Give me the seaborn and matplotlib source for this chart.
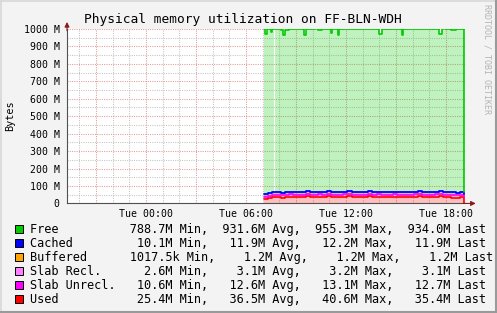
import numpy as np
import matplotlib
matplotlib.use("Agg")
import matplotlib.pyplot as plt
import seaborn as sns
from matplotlib.lines import Line2D
from matplotlib.patches import Rectangle

sns.set_style("white")
plt.rcParams["font.family"] = ["DejaVu Sans Mono"]

# ---------------- data (hours since Tue 00:00, values in MB) ----------------
t_start = 7.08          # first sample
step_h = 5 / 60         # 5-minute samples
x_min, x_max = -4.74, 19.14

used_15 = [27, 31, 35, 37, 34, 36, 39, 38, 35, 37, 40, 38, 36, 39, 38, 40,
           36, 35, 38, 39, 40, 37, 36, 35, 38, 40, 37, 39, 36, 35, 38, 39,
           36, 38, 35, 37, 39, 40, 37, 35, 37, 39, 40, 36, 35, 34, 33, 35]
slab_unrecl_15 = [10.8, 11.5, 12.1, 12.3, 12.4, 12.5, 12.6, 12.6, 12.7, 12.6, 12.7, 12.8,
                  12.7, 12.6, 12.7, 12.8, 12.8, 12.7, 12.6, 12.7, 12.8, 12.9, 12.8, 12.7,
                  12.6, 12.7, 12.8, 12.9, 12.8, 12.7, 12.8, 12.9, 13.0, 12.9, 12.8, 12.7,
                  12.8, 12.9, 13.0, 13.1, 12.9, 12.8, 12.7, 12.8, 12.7, 12.6, 12.7, 12.7]
slab_recl_15 = [2.6, 2.8, 3.0, 3.1, 3.1, 3.1, 3.1, 3.1, 3.1, 3.1, 3.2, 3.1,
                3.1, 3.1, 3.1, 3.2, 3.1, 3.1, 3.1, 3.1, 3.2, 3.1, 3.1, 3.1,
                3.1, 3.1, 3.2, 3.1, 3.1, 3.1, 3.1, 3.1, 3.2, 3.1, 3.1, 3.1,
                3.1, 3.2, 3.1, 3.1, 3.1, 3.1, 3.1, 3.2, 3.1, 3.1, 3.1, 3.1]
buffered_15 = [1.0, 1.1, 1.2, 1.2, 1.2, 1.2, 1.2, 1.2, 1.2, 1.2, 1.2, 1.2,
               1.2, 1.2, 1.2, 1.2, 1.2, 1.2, 1.2, 1.2, 1.2, 1.2, 1.2, 1.2,
               1.2, 1.2, 1.2, 1.2, 1.2, 1.2, 1.2, 1.2, 1.2, 1.2, 1.2, 1.2,
               1.2, 1.2, 1.2, 1.2, 1.2, 1.2, 1.2, 1.2, 1.2, 1.2, 1.2, 1.2]
cached_15 = [10.1, 10.9, 11.6, 11.8, 11.9, 11.9, 12.0, 12.0, 11.9, 12.0, 12.0, 12.1,
             12.0, 11.9, 12.0, 12.1, 12.0, 11.9, 12.0, 12.0, 12.1, 12.2, 12.0, 11.9,
             12.0, 12.0, 12.1, 12.0, 11.9, 12.0, 12.0, 12.1, 12.0, 11.9, 12.0, 12.0,
             12.1, 12.0, 11.9, 11.9, 12.0, 12.0, 12.1, 12.0, 11.9, 11.9, 11.9, 11.9]
free_15 = [945.5, 939.7, 934.1, 931.6,
           934, 932, 929, 930, 933, 931, 928, 930, 932, 929, 930, 928,
           932, 933, 930, 929, 928, 931, 932, 933, 930, 928, 931, 929,
           932, 933, 930, 929, 932, 930, 933, 931, 929, 928, 931, 933,
           931, 929, 928, 932, 933, 934, 935, 933]
# short dips / bumps of "Free" read at 5-minute resolution: (sample, change in MB)
free_events = [(1, -25), (5, -17), (14, -29), (29, -29), (37, 6), (48, -23),
               (53, -29), (56, 6), (83, -27), (84, -27), (99, -29), (121, 6),
               (126, -27), (127, -27), (129, 6)]
free_gaps = [7]

names = ["Used", "Slab Unrecl.", "Slab Recl.", "Buffered", "Cached", "Free"]
colors = ["#FF0000", "#FF00FF", "#FF80FF", "#FFA500", "#0000FF", "#00CC00"]

legend_labels = ["Free", "Cached", "Buffered", "Slab Recl.", "Slab Unrecl.", "Used"]
legend_colors = ["#00CC00", "#0000FF", "#FFA500", "#FF80FF", "#FF00FF", "#FF0000"]
stat_min = ["788.7M", "10.1M", "1017.5k", "2.6M", "10.6M", "25.4M"]
stat_avg = ["931.6M", "11.9M", "1.2M", "3.1M", "12.6M", "36.5M"]
stat_max = ["955.3M", "12.2M", "1.2M", "3.2M", "13.1M", "40.6M"]
stat_last = ["934.0M", "11.9M", "1.2M", "3.1M", "12.7M", "35.4M"]

ytick_values = [0, 100, 200, 300, 400, 500, 600, 700, 800, 900, 1000]
ytick_labels = ["0", "100 M", "200 M", "300 M", "400 M", "500 M",
                "600 M", "700 M", "800 M", "900 M", "1000 M"]
xtick_hours = [-3, 0, 3, 6, 9, 12, 15, 18]
xtick_labels = ["", "Tue 00:00", "", "Tue 06:00", "", "Tue 12:00", "", "Tue 18:00"]

# ---------------- build stacked series ----------------
free = np.repeat(np.array(free_15, dtype=float), 3)
for j, d in free_events:
    free[j] += d
for j in free_gaps:
    free[j] = np.nan
series = [np.repeat(np.array(s, dtype=float), 3) for s in
          (used_15, slab_unrecl_15, slab_recl_15, buffered_15, cached_15)] + [free]
n = len(free)
t = t_start + step_h * np.arange(n)
t_end = t_start + step_h * n
t_ext = np.append(t, t_end)

cum = np.cumsum(np.vstack(series), axis=0)

# ---------------- figure ----------------
BG = "#F3F3F3"
fig = plt.figure(figsize=(4.97, 3.13), dpi=100, facecolor=BG)
W, H = 497, 313
ax = fig.add_axes([67 / W, (H - 203.45) / H, 398 / W, 174.5 / H])
ax.set_facecolor("white")
ax.set_xlim(x_min, x_max)
ax.set_ylim(0, 1000)
ax.set_axisbelow(True)

# grids
ax.set_xticks(xtick_hours)
ax.set_xticklabels(xtick_labels)
ax.set_xticks(np.arange(-4, 20, 1), minor=True)
ax.set_yticks(ytick_values)
ax.set_yticklabels(ytick_labels)
ax.set_yticks(np.arange(50, 1000, 100), minor=True)
dot = (0, (1, 1.2))
ax.grid(which="minor", color="#C4C4C4", lw=0.75, linestyle=dot)
ax.grid(which="major", color="#E39A9A", lw=0.75, linestyle=dot)


def segments(y):
    """index ranges [a, b) of valid samples, split at NaN samples"""
    out, a = [], 0
    for b in list(np.where(np.isnan(y))[0]) + [len(y)]:
        if b > a:
            out.append((a, b))
        a = b + 1
    return out


# areas
lower = np.zeros(n)
for k in range(6):
    upper = cum[k]
    for a, b in segments(upper):
        xs = t_ext[a:b + 1]
        lo = np.append(lower[a:b], lower[b - 1])
        hi = np.append(upper[a:b], upper[b - 1])
        ax.fill_between(xs, lo, hi, step="post", color=colors[k], alpha=0.25,
                        lw=0, zorder=2)
    lower = upper.copy()

# lines (light ones first so magenta / blue stay visible)
line_order = [2, 3, 0, 1, 4, 5]
line_width = {0: 1.2, 1: 1.2, 2: 1.0, 3: 1.0, 4: 1.3, 5: 1.2}
for k in line_order:
    upper = cum[k]
    below_last = cum[k - 1][-1] if k > 0 else 0.0
    segs = segments(upper)
    for si, (a, b) in enumerate(segs):
        xs = t_ext[a:b + 1]
        ys = np.append(upper[a:b], upper[b - 1])
        if si == len(segs) - 1:
            xs = np.append(xs, t_end)
            ys = np.append(ys, below_last)
        sns.lineplot(x=xs, y=ys, ax=ax, color=colors[k], lw=line_width[k],
                     sort=False, estimator=None, drawstyle="steps-post", zorder=3)

# axes styling
for s in ["top", "right"]:
    ax.spines[s].set_visible(False)
for s in ["left", "bottom"]:
    ax.spines[s].set_color("#505050")
    ax.spines[s].set_linewidth(0.8)
    ax.spines[s].set_zorder(4)
ax.tick_params(axis="both", which="major", length=2, width=0.7, color="#7A7A7A",
               labelsize=7.1, labelcolor="#000000")
ax.tick_params(axis="x", which="major", pad=2.2, color="#B04040")
ax.tick_params(axis="y", which="major", pad=3.4)
ax.tick_params(axis="both", which="minor", length=0)
ax.set_xlabel("")
ax.set_ylabel("")

arrow_c = "#8B1A1A"
ax.annotate("", xy=(1.027, 0), xytext=(0.995, 0), xycoords="axes fraction",
            arrowprops=dict(arrowstyle="-|>", color=arrow_c, lw=0.8,
                            mutation_scale=7, shrinkA=0, shrinkB=0), zorder=5)
ax.annotate("", xy=(0, 1.04), xytext=(0, 0.99), xycoords="axes fraction",
            arrowprops=dict(arrowstyle="-|>", color=arrow_c, lw=0.8,
                            mutation_scale=7, shrinkA=0, shrinkB=0), zorder=5)

# texts
fig.text(243 / W, 1 - 19 / H, "Physical memory utilization on FF-BLN-WDH",
         ha="center", va="center", fontsize=9.3, color="#000000")
fig.text(10 / W, 1 - 116 / H, "Bytes", rotation=90, ha="center", va="center",
         fontsize=7.3, color="#000000")
fig.text(487.5 / W, 1 - 59 / H, "RRDTOOL / TOBI OETIKER", rotation=270,
         ha="center", va="center", fontsize=6.0, color="#B4B4B4")

row_y = [229, 243, 257, 271, 285, 299]
for i, lab in enumerate(legend_labels):
    y = row_y[i]
    fig.add_artist(Rectangle((15 / W, 1 - (y + 4) / H), 8 / W, 8 / H,
                             transform=fig.transFigure, facecolor=legend_colors[i],
                             edgecolor="black", lw=0.7))
    row = f"{lab:<14}{stat_min[i]:>6} Min, {stat_avg[i]:>7} Avg, {stat_max[i]:>7} Max, {stat_last[i]:>7} Last"
    fig.text(30 / W, 1 - y / H, row, ha="left", va="center", fontsize=8.55,
             color="#000000")

# frame
fig.add_artist(Line2D([0, 1], [1 - 0.5 / H, 1 - 0.5 / H], transform=fig.transFigure,
                      color="#D8D8D8", lw=1.2))
fig.add_artist(Line2D([0.5 / W, 0.5 / W], [0, 1], transform=fig.transFigure,
                      color="#D8D8D8", lw=1.2))
fig.add_artist(Line2D([0, 1], [1 / H, 1 / H], transform=fig.transFigure,
                      color="#9A9A9A", lw=1.5))
fig.add_artist(Line2D([1 - 1 / W, 1 - 1 / W], [0, 1], transform=fig.transFigure,
                      color="#9A9A9A", lw=1.5))

fig.savefig("out.png", dpi=100, facecolor=BG)
